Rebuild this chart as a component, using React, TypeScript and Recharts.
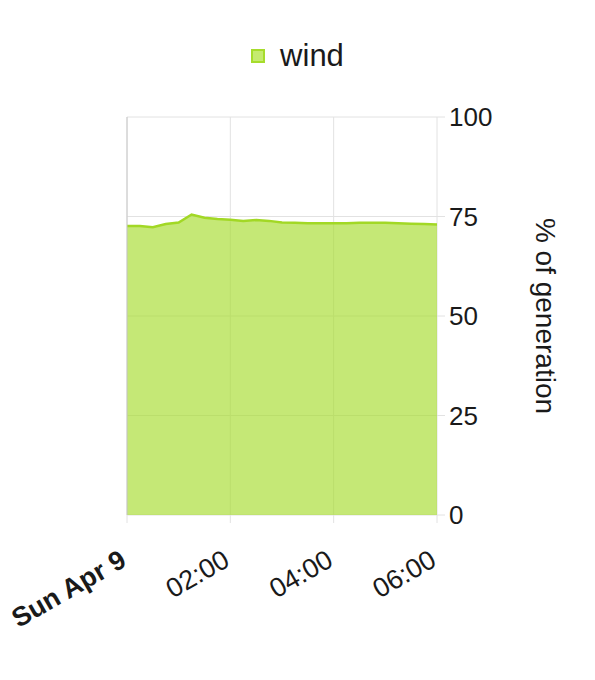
import React from 'react';
import { AreaChart, Area, XAxis, YAxis, CartesianGrid, Legend, ReferenceLine } from 'recharts';

// minutes since midnight, Sun Apr 9
const times = [0, 15, 30, 45, 60, 75, 90, 105, 120, 135, 150, 165, 180, 195, 210, 225, 240, 255, 270, 285, 300, 315, 330, 345, 360];
const wind = [72.6, 72.6, 72.3, 73.1, 73.5, 75.5, 74.7, 74.4, 74.2, 73.9, 74.1, 73.9, 73.5, 73.4, 73.3, 73.3, 73.3, 73.3, 73.4, 73.4, 73.4, 73.3, 73.2, 73.1, 73.0];
const xTicks = [0, 120, 240, 360];
const xTickLabels = ['Sun Apr 9', '02:00', '04:00', '06:00'];
const yTicks = [0, 25, 50, 75, 100];

const data = times.map((t, i) => ({ t, wind: wind[i] }));

const FONT = '"Liberation Sans", Arial, Helvetica, sans-serif';
const TEXT = '#1a1a1a';
const GRID = '#e2e2e2';

const XTick = (props: any) => {
  const { x, y, payload } = props;
  const i = xTicks.indexOf(payload.value);
  const bx = x + 1;
  const by = y + 40;
  return (
    <text
      x={bx}
      y={by}
      transform={`rotate(-30, ${bx}, ${by})`}
      textAnchor="end"
      fontFamily={FONT}
      fontSize={27}
      fontWeight={i === 0 ? 'bold' : 'normal'}
      fill={TEXT}
    >
      {xTickLabels[i]}
    </text>
  );
};

const LegendBox = () => (
  <div style={{ display: 'flex', justifyContent: 'center', alignItems: 'center', fontFamily: FONT, fontSize: 31, color: TEXT }}>
    <span style={{ width: 10, height: 10, background: '#c5eb6f', border: '2px solid #a6dc2c', marginRight: 15 }} />
    <span>wind</span>
  </div>
);

export default function App() {
  return (
    <div style={{ position: 'absolute', left: 0, top: 0, width: 595, height: 680, background: '#fff' }}>
      <AreaChart width={595} height={680} data={data} margin={{ top: 85, left: 127, right: 58, bottom: 105 }}>
        <CartesianGrid stroke={GRID} />
        <XAxis
          dataKey="t"
          type="number"
          domain={[0, 360]}
          ticks={xTicks}
          axisLine={false}
          tickSize={8}
          tickLine={{ stroke: GRID }}
          height={60}
          tick={<XTick />}
        />
        <YAxis
          orientation="right"
          domain={[0, 100]}
          ticks={yTicks}
          axisLine={false}
          tickSize={8}
          tickMargin={4}
          tickLine={{ stroke: GRID }}
          width={100}
          tick={{ fontFamily: FONT, fontSize: 26, fill: TEXT, textAnchor: 'start' }}
          label={{
            content: (p: any) => {
              const vb = p.viewBox;
              const cx = vb.x + 108;
              const cy = vb.y + vb.height / 2;
              return (
                <text
                  x={cx}
                  y={cy}
                  transform={`rotate(90, ${cx}, ${cy})`}
                  textAnchor="middle"
                  dominantBaseline="central"
                  fontFamily={FONT}
                  fontSize={28}
                  fill={TEXT}
                >
                  % of generation
                </text>
              );
            },
          }}
        />
        <Legend verticalAlign="top" content={<LegendBox />} wrapperStyle={{ top: 40, left: 0, width: 595, lineHeight: '32px' }} />
        <Area
          type="linear"
          dataKey="wind"
          name="wind"
          stroke="#a2d825"
          strokeWidth={2.5}
          fill="#a6dc2c"
          fillOpacity={0.65}
          isAnimationActive={false}
          dot={false}
          activeDot={false}
        />
        <ReferenceLine x={0} stroke="#c8c8c8" />
      </AreaChart>
    </div>
  );
}
